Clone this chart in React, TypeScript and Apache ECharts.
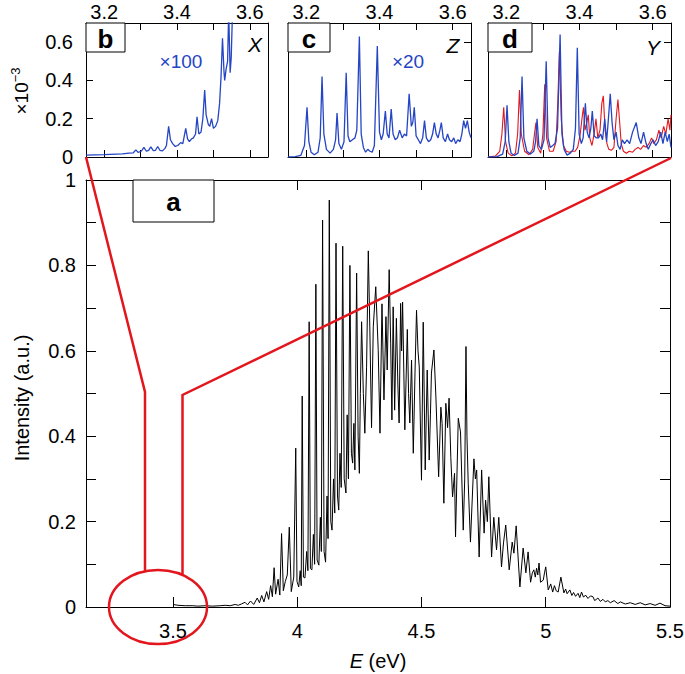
import React, { useEffect, useRef } from "react";
import * as echarts from "echarts";

const FONT = "'Liberation Sans', Arial, Helvetica, sans-serif";
const TICK_FS = 20;

// Main panel (a)
const mainXTicks = [3.5, 4, 4.5, 5];
const mainXLabels = [3.5, 4, 4.5, 5, 5.5];
const mainYTicks = [0, 0.1, 0.2, 0.3, 0.4, 0.5, 0.6, 0.7, 0.8, 0.9, 1];
const mainYLabels = [0, 0.2, 0.4, 0.6, 0.8, 1];

// Insets (b, c, d)
const insetXTicks = [3.2, 3.3, 3.4, 3.5, 3.6];
const insetXLabels = [3.2, 3.4, 3.6];
const insetYTicks = [0, 0.2, 0.4, 0.6];
const insetYLabels = [0, 0.2, 0.4, 0.6];

// Spectrum, panel a: [E (eV), intensity]
const spectrumA = [
  [3.5, 0.006], [3.52, 0.004], [3.55, 0.003], [3.58, 0.003], [3.6, 0.002], [3.63, 0.003],
  [3.66, 0.002], [3.69, 0.003], [3.71, 0.004], [3.73, 0.003], [3.75, 0.006], [3.763, 0.004],
  [3.775, 0.007], [3.79, 0.011], [3.8, 0.005], [3.812, 0.014], [3.825, 0.006], [3.839, 0.021],
  [3.848, 0.01], [3.857, 0.027], [3.866, 0.012], [3.877, 0.036], [3.885, 0.018], [3.893, 0.05],
  [3.9, 0.024], [3.907, 0.092], [3.913, 0.03], [3.923, 0.065], [3.93, 0.028], [3.937, 0.172],
  [3.944, 0.038], [3.952, 0.06], [3.96, 0.075], [3.968, 0.187], [3.976, 0.036], [3.986, 0.07],
  [3.994, 0.372], [3.999, 0.06], [4.006, 0.047], [4.012, 0.085], [4.016, 0.05], [4.02, 0.494],
  [4.025, 0.07], [4.031, 0.068], [4.038, 0.13], [4.043, 0.085], [4.048, 0.668], [4.053, 0.09],
  [4.059, 0.087], [4.065, 0.17], [4.07, 0.1], [4.075, 0.756], [4.08, 0.11], [4.087, 0.098],
  [4.093, 0.21], [4.097, 0.13], [4.102, 0.906], [4.108, 0.13], [4.114, 0.105], [4.12, 0.26],
  [4.124, 0.16], [4.129, 0.953], [4.135, 0.2], [4.14, 0.18], [4.146, 0.3], [4.151, 0.22],
  [4.156, 0.852], [4.162, 0.26], [4.167, 0.227], [4.172, 0.36], [4.177, 0.28], [4.183, 0.845],
  [4.189, 0.3], [4.196, 0.267], [4.201, 0.45], [4.206, 0.3], [4.212, 0.8], [4.218, 0.36],
  [4.223, 0.337], [4.228, 0.43], [4.232, 0.321], [4.239, 0.782], [4.245, 0.4], [4.25, 0.313],
  [4.254, 0.5], [4.259, 0.668], [4.266, 0.5], [4.272, 0.407], [4.279, 0.56], [4.286, 0.834],
  [4.292, 0.656], [4.299, 0.42], [4.306, 0.656], [4.316, 0.75], [4.326, 0.6], [4.333, 0.407],
  [4.341, 0.71], [4.349, 0.485], [4.357, 0.68], [4.362, 0.555], [4.37, 0.79], [4.376, 0.618],
  [4.381, 0.438], [4.386, 0.703], [4.392, 0.461], [4.399, 0.676], [4.405, 0.52], [4.41, 0.431],
  [4.416, 0.711], [4.42, 0.6], [4.424, 0.714], [4.433, 0.415], [4.443, 0.65], [4.448, 0.5],
  [4.453, 0.431], [4.46, 0.578], [4.467, 0.36], [4.474, 0.55], [4.48, 0.695], [4.486, 0.6],
  [4.491, 0.562], [4.5, 0.297], [4.507, 0.667], [4.515, 0.321], [4.523, 0.555], [4.531, 0.344],
  [4.536, 0.45], [4.54, 0.548], [4.55, 0.602], [4.558, 0.492], [4.569, 0.305], [4.578, 0.468],
  [4.583, 0.43], [4.59, 0.243], [4.598, 0.477], [4.605, 0.42], [4.611, 0.489], [4.618, 0.35],
  [4.625, 0.258], [4.633, 0.313], [4.637, 0.164], [4.648, 0.442], [4.657, 0.41], [4.668, 0.18],
  [4.674, 0.3], [4.679, 0.61], [4.683, 0.4], [4.688, 0.29], [4.697, 0.152], [4.711, 0.347],
  [4.717, 0.3], [4.722, 0.321], [4.732, 0.117], [4.742, 0.321], [4.752, 0.173], [4.758, 0.25],
  [4.765, 0.2], [4.771, 0.305], [4.782, 0.117], [4.791, 0.21], [4.802, 0.134], [4.811, 0.21],
  [4.822, 0.094], [4.83, 0.15], [4.839, 0.192], [4.853, 0.087], [4.865, 0.152], [4.872, 0.126],
  [4.881, 0.19], [4.896, 0.047], [4.909, 0.138], [4.92, 0.08], [4.929, 0.129], [4.939, 0.058],
  [4.946, 0.08], [4.952, 0.087], [4.958, 0.07], [4.963, 0.091], [4.968, 0.075], [4.973, 0.103],
  [4.979, 0.058], [4.99, 0.063], [4.995, 0.08], [5.0, 0.094], [5.01, 0.04], [5.02, 0.054],
  [5.028, 0.035], [5.035, 0.05], [5.042, 0.038], [5.05, 0.035], [5.061, 0.07], [5.073, 0.033],
  [5.08, 0.042], [5.086, 0.031], [5.097, 0.04], [5.105, 0.027], [5.112, 0.034], [5.12, 0.025],
  [5.13, 0.032], [5.137, 0.022], [5.144, 0.035], [5.152, 0.023], [5.16, 0.028], [5.17, 0.02],
  [5.18, 0.026], [5.19, 0.024], [5.197, 0.015], [5.21, 0.021], [5.22, 0.013], [5.23, 0.018],
  [5.24, 0.012], [5.25, 0.015], [5.26, 0.01], [5.275, 0.015], [5.29, 0.008], [5.3, 0.012],
  [5.32, 0.007], [5.34, 0.01], [5.36, 0.006], [5.38, 0.01], [5.4, 0.005], [5.42, 0.008],
  [5.44, 0.004], [5.46, 0.009], [5.48, 0.003], [5.5, 0.002],
];

// Inset b: X polarization, x100 (units 1e-3)
const insetX = [
  [3.15, 0.01], [3.2, 0.012], [3.25, 0.016], [3.268, 0.02], [3.28, 0.022], [3.287, 0.037],
  [3.293, 0.024], [3.302, 0.03], [3.309, 0.05], [3.316, 0.03], [3.322, 0.035], [3.328, 0.053],
  [3.335, 0.033], [3.341, 0.035], [3.347, 0.055], [3.353, 0.035], [3.36, 0.032], [3.367, 0.045],
  [3.371, 0.06], [3.377, 0.16], [3.382, 0.09], [3.388, 0.07], [3.395, 0.055], [3.402, 0.06],
  [3.41, 0.075], [3.416, 0.07], [3.424, 0.15], [3.429, 0.095], [3.434, 0.08], [3.44, 0.095],
  [3.445, 0.1], [3.451, 0.12], [3.455, 0.21], [3.46, 0.12], [3.466, 0.13], [3.471, 0.2],
  [3.476, 0.35], [3.48, 0.22], [3.486, 0.17], [3.49, 0.16], [3.495, 0.2], [3.5, 0.15],
  [3.506, 0.16], [3.512, 0.19], [3.517, 0.28], [3.521, 0.42], [3.525, 0.62], [3.529, 0.45],
  [3.531, 0.4], [3.535, 0.46], [3.539, 0.5], [3.542, 0.76], [3.546, 0.44], [3.549, 0.52],
  [3.553, 0.8], [3.56, 0.9],
];

// Inset c: Z polarization, x20
const insetZ = [
  [3.15, 0], [3.17, 0.002], [3.185, 0.008], [3.195, 0.06], [3.202, 0.26], [3.207, 0.08],
  [3.213, 0.025], [3.222, 0.012], [3.232, 0.025], [3.238, 0.1], [3.243, 0.42], [3.248, 0.12],
  [3.255, 0.04], [3.265, 0.02], [3.274, 0.04], [3.28, 0.09], [3.284, 0.23], [3.289, 0.07],
  [3.296, 0.04], [3.303, 0.08], [3.309, 0.44], [3.314, 0.11], [3.319, 0.08], [3.326, 0.09],
  [3.333, 0.1], [3.338, 0.14], [3.345, 0.63], [3.35, 0.12], [3.356, 0.05], [3.362, 0.025],
  [3.368, 0.04], [3.374, 0.03], [3.38, 0.025], [3.386, 0.06], [3.394, 0.58], [3.4, 0.13],
  [3.405, 0.09], [3.41, 0.12], [3.416, 0.24], [3.421, 0.12], [3.426, 0.1], [3.432, 0.25],
  [3.437, 0.12], [3.443, 0.09], [3.449, 0.1], [3.455, 0.14], [3.462, 0.1], [3.468, 0.12],
  [3.474, 0.11], [3.481, 0.33], [3.487, 0.16], [3.491, 0.18], [3.495, 0.26], [3.5, 0.11],
  [3.506, 0.09], [3.512, 0.07], [3.518, 0.1], [3.523, 0.19], [3.528, 0.1], [3.534, 0.08],
  [3.54, 0.09], [3.545, 0.12], [3.55, 0.18], [3.555, 0.12], [3.56, 0.1], [3.565, 0.14],
  [3.569, 0.18], [3.574, 0.1], [3.58, 0.08], [3.586, 0.12], [3.591, 0.09], [3.597, 0.08],
  [3.603, 0.1], [3.608, 0.07], [3.614, 0.09], [3.62, 0.08], [3.625, 0.12], [3.63, 0.19],
  [3.635, 0.15], [3.64, 0.19], [3.645, 0.13], [3.65, 0.1],
];

// Inset d: Y polarization (blue and red)
const insetYBlue = [
  [3.15, 0], [3.175, 0.002], [3.19, 0.015], [3.197, 0.08], [3.202, 0.27], [3.207, 0.08],
  [3.213, 0.02], [3.222, 0.008], [3.232, 0.02], [3.238, 0.1], [3.243, 0.42], [3.248, 0.1],
  [3.256, 0.03], [3.266, 0.015], [3.275, 0.03], [3.28, 0.08], [3.284, 0.2], [3.289, 0.06],
  [3.296, 0.04], [3.303, 0.09], [3.309, 0.5], [3.314, 0.1], [3.32, 0.05], [3.327, 0.06],
  [3.333, 0.07], [3.34, 0.15], [3.347, 0.64], [3.352, 0.12], [3.358, 0.04], [3.366, 0.01],
  [3.375, 0.02], [3.383, 0.04], [3.389, 0.15], [3.394, 0.57], [3.399, 0.12], [3.405, 0.07],
  [3.41, 0.1], [3.416, 0.28], [3.421, 0.13], [3.426, 0.1], [3.431, 0.15], [3.435, 0.24],
  [3.44, 0.11], [3.446, 0.1], [3.452, 0.1], [3.458, 0.12], [3.463, 0.09], [3.469, 0.2],
  [3.474, 0.08], [3.479, 0.2], [3.484, 0.33], [3.489, 0.18], [3.494, 0.09], [3.5, 0.13],
  [3.505, 0.06], [3.511, 0.04], [3.517, 0.09], [3.523, 0.07], [3.53, 0.09], [3.537, 0.07],
  [3.545, 0.13], [3.555, 0.18], [3.562, 0.1], [3.568, 0.07], [3.575, 0.13], [3.582, 0.07],
  [3.588, 0.04], [3.595, 0.07], [3.601, 0.09], [3.608, 0.06], [3.615, 0.08], [3.622, 0.13],
  [3.628, 0.07], [3.634, 0.13], [3.64, 0.08], [3.645, 0.12], [3.65, 0.05],
];

const insetYRed = [
  [3.15, 0], [3.17, 0.005], [3.182, 0.03], [3.188, 0.12], [3.193, 0.26], [3.198, 0.08],
  [3.205, 0.02], [3.215, 0.006], [3.225, 0.02], [3.231, 0.12], [3.236, 0.35], [3.241, 0.12],
  [3.25, 0.03], [3.262, 0.012], [3.272, 0.04], [3.277, 0.12], [3.281, 0.18], [3.286, 0.05],
  [3.294, 0.02], [3.3, 0.12], [3.305, 0.38], [3.31, 0.1], [3.318, 0.03], [3.328, 0.03],
  [3.336, 0.08], [3.341, 0.3], [3.345, 0.55], [3.35, 0.2], [3.356, 0.06], [3.364, 0.03],
  [3.372, 0.025], [3.38, 0.03], [3.388, 0.03], [3.395, 0.05], [3.402, 0.12], [3.408, 0.22],
  [3.411, 0.26], [3.415, 0.14], [3.42, 0.18], [3.424, 0.22], [3.428, 0.1], [3.434, 0.06],
  [3.44, 0.12], [3.445, 0.2], [3.45, 0.1], [3.456, 0.14], [3.461, 0.28], [3.465, 0.32],
  [3.47, 0.14], [3.475, 0.07], [3.48, 0.04], [3.487, 0.035], [3.494, 0.05], [3.5, 0.2],
  [3.505, 0.3], [3.509, 0.2], [3.514, 0.07], [3.52, 0.03], [3.528, 0.02], [3.536, 0.03],
  [3.545, 0.025], [3.552, 0.04], [3.56, 0.05], [3.567, 0.04], [3.575, 0.06], [3.582, 0.05],
  [3.59, 0.07], [3.597, 0.1], [3.603, 0.07], [3.61, 0.09], [3.617, 0.14], [3.623, 0.1],
  [3.63, 0.16], [3.636, 0.12], [3.642, 0.2], [3.647, 0.14], [3.65, 0.22],
];

const BLUE = "#2445c4";
const RED = "#e3161d";

function xAxisDef(gridIndex: number, position: string, min: number, max: number, ticks: number[], labels: number[] | null, tickLen: number, margin: number) {
  return {
    type: "value",
    gridIndex,
    position,
    min,
    max,
    axisLine: { show: true, onZero: false, lineStyle: { color: "#000", width: 1 } },
    axisTick: { show: true, inside: true, length: tickLen, customValues: ticks, lineStyle: { color: "#000", width: 1 } },
    axisLabel: labels
      ? { show: true, customValues: labels, fontSize: TICK_FS, color: "#000", fontFamily: FONT, margin, formatter: (v: number) => String(v) }
      : { show: false },
    splitLine: { show: false },
  };
}

function yAxisDef(gridIndex: number, position: string, min: number, max: number, ticks: number[] | null, labels: number[] | null, tickLen: number, margin: number) {
  return {
    type: "value",
    gridIndex,
    position,
    min,
    max,
    axisLine: { show: true, onZero: false, lineStyle: { color: "#000", width: 1 } },
    axisTick: ticks
      ? { show: true, inside: true, length: tickLen, customValues: ticks, lineStyle: { color: "#000", width: 1 } }
      : { show: false },
    axisLabel: labels
      ? { show: true, customValues: labels, fontSize: TICK_FS, color: "#000", fontFamily: FONT, margin, formatter: (v: number) => String(v) }
      : { show: false },
    splitLine: { show: false },
  };
}

function lineSeries(name: string, data: number[][], xi: number, yi: number, color: string, width: number) {
  return {
    name,
    type: "line",
    data,
    xAxisIndex: xi,
    yAxisIndex: yi,
    showSymbol: false,
    symbol: "none",
    clip: true,
    lineStyle: { color, width },
    z: 3,
  };
}

function labelBox(x: number, y: number, w: number, h: number, letter: string) {
  return [
    { type: "rect", z: 100, shape: { x, y, width: w, height: h }, style: { fill: "#fff", stroke: "#000", lineWidth: 1 } },
    {
      type: "text", z: 101, x: x + w / 2, y: y + h / 2 + 1,
      style: { text: letter, fontSize: 26, fontWeight: "bold", fontFamily: FONT, fill: "#000", align: "center", verticalAlign: "middle" },
    },
  ];
}

function italicText(x: number, y: number, t: string) {
  return {
    type: "text", z: 101, x, y,
    style: { text: t, fontSize: 21, fontStyle: "italic", fontFamily: FONT, fill: "#000", align: "center", verticalAlign: "middle" },
  };
}

function blueText(x: number, y: number, t: string) {
  return {
    type: "text", z: 101, x, y,
    style: { text: t, fontSize: 19, fontFamily: FONT, fill: BLUE, align: "center", verticalAlign: "middle" },
  };
}

export default function App() {
  const ref = useRef<HTMLDivElement>(null);

  useEffect(() => {
    if (!ref.current) return;
    const chart = echarts.init(ref.current, null, { renderer: "svg" });

    const grids = [
      { left: 86, top: 180, width: 584, height: 427 },
      { left: 86, top: 23, width: 182, height: 134 },
      { left: 288, top: 23, width: 183, height: 134 },
      { left: 488, top: 23, width: 183, height: 134 },
    ].map((g) => ({ ...g, containLabel: false, outerBoundsMode: "none", show: false }));

    const option: any = {
      animation: false,
      backgroundColor: "#fff",
      grid: grids,
      xAxis: [
        xAxisDef(0, "bottom", 3.15, 5.5, mainXTicks, mainXLabels, 10, 14),
        xAxisDef(0, "top", 3.15, 5.5, mainXTicks, null, 10, 0),
        xAxisDef(1, "bottom", 3.15, 3.65, insetXTicks, null, 7, 0),
        xAxisDef(1, "top", 3.15, 3.65, insetXTicks, insetXLabels, 7, 1),
        xAxisDef(2, "bottom", 3.15, 3.65, insetXTicks, null, 7, 0),
        xAxisDef(2, "top", 3.15, 3.65, insetXTicks, insetXLabels, 7, 1),
        xAxisDef(3, "bottom", 3.15, 3.65, insetXTicks, null, 7, 0),
        xAxisDef(3, "top", 3.15, 3.65, insetXTicks, insetXLabels, 7, 1),
      ],
      yAxis: [
        yAxisDef(0, "left", 0, 1, mainYTicks, mainYLabels, 10, 10),
        yAxisDef(0, "right", 0, 1, mainYTicks, null, 10, 0),
        yAxisDef(1, "left", 0, 0.7, insetYTicks, insetYLabels, 7, 13),
        yAxisDef(1, "right", 0, 0.7, null, null, 7, 0),
        yAxisDef(2, "left", 0, 0.7, null, null, 7, 0),
        yAxisDef(2, "right", 0, 0.7, insetYTicks, null, 7, 0),
        yAxisDef(3, "left", 0, 0.7, null, null, 7, 0),
        yAxisDef(3, "right", 0, 0.7, insetYTicks, null, 7, 0),
      ],
      series: [
        lineSeries("a", spectrumA, 0, 0, "#000", 1),
        lineSeries("X", insetX, 2, 2, BLUE, 1.3),
        lineSeries("Z", insetZ, 4, 4, BLUE, 1.3),
        lineSeries("Y red", insetYRed, 6, 6, RED, 1.1),
        lineSeries("Y blue", insetYBlue, 6, 6, BLUE, 1.3),
      ],
      graphic: [
        // axis titles
        {
          type: "text", z: 101, x: 22, y: 398, rotation: Math.PI / 2,
          style: { text: "Intensity (a.u.)", fontSize: 20, fontFamily: FONT, fill: "#000", align: "center", verticalAlign: "middle" },
        },
        {
          type: "text", z: 101, x: 378, y: 661,
          style: {
            text: "{i|E} (eV)", fontSize: 20, fontFamily: FONT, fill: "#000", align: "center", verticalAlign: "middle",
            rich: { i: { fontSize: 20, fontStyle: "italic", fontFamily: FONT, fill: "#000" } },
          },
        },
        {
          type: "text", z: 101, x: 20, y: 91, rotation: Math.PI / 2,
          style: {
            text: "{b|×10}{s|−3}", align: "center", verticalAlign: "middle", fill: "#000",
            rich: {
              b: { fontSize: 19, fontFamily: FONT, fill: "#000", lineHeight: 22, verticalAlign: "bottom" },
              s: { fontSize: 13, fontFamily: FONT, fill: "#000", lineHeight: 12, verticalAlign: "top" },
            },
          },
        },
        // panel labels
        ...labelBox(133, 180, 81, 42, "a"),
        ...labelBox(86, 23, 39, 29, "b"),
        ...labelBox(288, 23, 42, 29, "c"),
        ...labelBox(488, 23, 44, 29, "d"),
        italicText(255, 44, "X"),
        italicText(453, 45, "Z"),
        italicText(653, 47, "Y"),
        blueText(181, 61, "×100"),
        blueText(408, 61, "×20"),
        // zoom connectors
        {
          type: "polyline", z: 120,
          shape: { points: [[86, 157], [145, 392], [145, 571]] },
          style: { stroke: RED, lineWidth: 2.5, fill: "none" },
        },
        {
          type: "polyline", z: 120,
          shape: { points: [[671, 158], [182.5, 395], [182.5, 575]] },
          style: { stroke: RED, lineWidth: 2.5, fill: "none" },
        },
        {
          type: "ellipse", z: 120,
          shape: { cx: 158, cy: 607, rx: 49, ry: 37 },
          style: { stroke: RED, lineWidth: 2.5, fill: "none" },
        },
      ],
    };

    chart.setOption(option);
    return () => chart.dispose();
  }, []);

  return (
    <div
      ref={ref}
      style={{ position: "absolute", left: 0, top: 0, width: 685, height: 674, background: "#fff" }}
    />
  );
}
